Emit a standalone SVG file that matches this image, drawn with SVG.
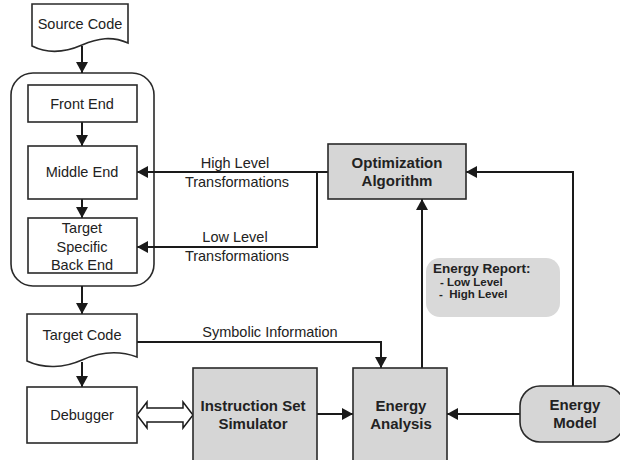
<svg xmlns="http://www.w3.org/2000/svg" width="620" height="460" viewBox="0 0 620 460">
<defs>
<marker id="ah" markerUnits="userSpaceOnUse" markerWidth="12" markerHeight="12" refX="11" refY="6" orient="auto">
<path d="M0,0 L11,6 L0,12 Z" fill="#1a1a1a"/>
</marker>
<style>
.box{fill:#fff;stroke:#2a2a2a;stroke-width:1.6}
.gbox{fill:#d6d6d6;stroke:#2a2a2a;stroke-width:1.6}
.t{font-family:"Liberation Sans",Arial,sans-serif;font-size:14.5px;fill:#222;text-anchor:middle}
.b{font-family:"Liberation Sans",Arial,sans-serif;font-size:15px;font-weight:bold;fill:#222;text-anchor:middle}
.ln{fill:none;stroke:#1a1a1a;stroke-width:2}
.la{fill:none;stroke:#1a1a1a;stroke-width:2;marker-end:url(#ah)}
</style>
</defs>
<rect width="620" height="460" fill="#fff"/>

<g id="compiler">
<rect x="11" y="73" width="143" height="213" rx="22" ry="22" fill="#fff" stroke="#2a2a2a" stroke-width="1.6"/>
</g>

<g id="connectors">
<line class="la" x1="82" y1="46" x2="82" y2="73"/>
<line class="la" x1="82" y1="122" x2="82" y2="146"/>
<line class="la" x1="82" y1="199" x2="82" y2="218"/>
<line class="la" x1="82" y1="286" x2="82" y2="314"/>
<line class="la" x1="82" y1="362" x2="82" y2="387"/>
<line class="la" x1="328" y1="172" x2="137" y2="172"/>
<polyline class="la" points="317,172 317,247 137,247"/>
<polyline class="la" points="573,386 573,172 466,172"/>
<line class="la" x1="422" y1="368" x2="422" y2="199"/>
<polyline class="la" points="137,342 381,342 381,368"/>
<line class="la" x1="317" y1="414" x2="353" y2="414"/>
<line class="la" x1="520" y1="414" x2="447" y2="414"/>
<polygon points="137,415 147,402 147,408 183,408 183,402 193,415 183,428 183,422 147,422 147,428" fill="#fff" stroke="#1a1a1a" stroke-width="1.5"/>
<text class="t" x="235" y="168">High Level</text>
<text class="t" x="237" y="187">Transformations</text>
<text class="t" x="235" y="242">Low Level</text>
<text class="t" x="237" y="261">Transformations</text>
<text class="t" x="270" y="337">Symbolic Information</text>
</g>

<g id="source-code">
<path class="box" d="M32,4 H128 V43 C112,36 98,38 82,45 C66,52 48,54 32,46 Z"/>
<text class="t" x="80" y="29">Source Code</text>
</g>

<g id="front-end">
<rect class="box" x="28" y="85" width="109" height="37"/>
<text class="t" x="82" y="109">Front End</text>
</g>

<g id="middle-end">
<rect class="box" x="28" y="146" width="109" height="53"/>
<text class="t" x="82" y="177">Middle End</text>
</g>

<g id="back-end">
<rect class="box" x="28" y="218" width="109" height="55"/>
<text class="t" x="82" y="233">Target</text>
<text class="t" x="82" y="252">Specific</text>
<text class="t" x="82" y="270">Back End</text>
</g>

<g id="target-code">
<path class="box" d="M27,314 H137 V357 C118,350 100,352 82,360 C64,368 44,369 27,361 Z"/>
<text class="t" x="82" y="340">Target Code</text>
</g>

<g id="debugger">
<rect class="box" x="27" y="387" width="110" height="56"/>
<text class="t" x="82" y="420">Debugger</text>
</g>

<g id="iss">
<rect class="gbox" x="193" y="368" width="124" height="96"/>
<text class="b" x="253" y="411">Instruction Set</text>
<text class="b" x="253" y="429">Simulator</text>
</g>

<g id="energy-analysis">
<rect class="gbox" x="353" y="368" width="94" height="96"/>
<text class="b" x="401" y="411">Energy</text>
<text class="b" x="401" y="429">Analysis</text>
</g>

<g id="energy-model">
<rect class="gbox" x="520" y="386" width="104" height="56" rx="20" ry="20"/>
<text class="b" x="575" y="410">Energy</text>
<text class="b" x="575" y="428">Model</text>
</g>

<g id="optimization">
<rect class="gbox" x="328" y="144" width="138" height="55"/>
<text class="b" x="397" y="168">Optimization</text>
<text class="b" x="397" y="186">Algorithm</text>
</g>

<g id="energy-report">
<rect x="426" y="258" width="134" height="59" rx="14" ry="14" fill="#d9d9d9"/>
<text x="433" y="273" font-family="Liberation Sans, Arial, sans-serif" font-size="13.5" font-weight="bold" fill="#222">Energy Report:</text>
<text x="440" y="286" font-family="Liberation Sans, Arial, sans-serif" font-size="11.5" font-weight="bold" fill="#222" xml:space="preserve">- Low Level</text>
<text x="439" y="298" font-family="Liberation Sans, Arial, sans-serif" font-size="11.5" font-weight="bold" fill="#222" xml:space="preserve">-  High Level</text>
</g>
</svg>
